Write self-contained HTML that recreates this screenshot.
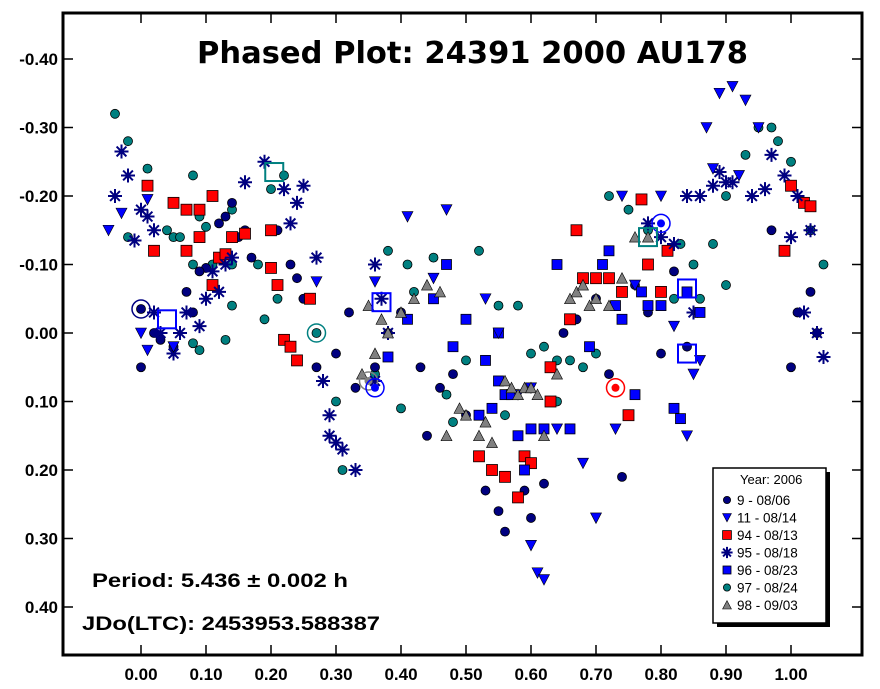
<!DOCTYPE html>
<html><head><meta charset="utf-8"><style>
body{margin:0;background:#fff;}
svg text{font-family:"Liberation Sans",Arial,sans-serif;font-weight:bold;}
</style></head><body>
<svg id="chart" width="880" height="684" xmlns="http://www.w3.org/2000/svg">
<rect x="0" y="0" width="880" height="684" fill="#fff"/>
<g id="axes"></g>
<g id="marks"></g>
<text x="197" y="63" font-size="30" textLength="551" lengthAdjust="spacingAndGlyphs" style="font-family:'DejaVu Sans','Liberation Sans',sans-serif;font-weight:900">Phased Plot: 24391 2000 AU178</text>
<text x="92" y="587" font-size="19" textLength="256" lengthAdjust="spacingAndGlyphs">Period: 5.436 ± 0.002 h</text>
<text x="82" y="630" font-size="19" textLength="298" lengthAdjust="spacingAndGlyphs">JDo(LTC): 2453953.588387</text>
<g id="legend">
<rect x="717" y="472" width="113" height="155" fill="#000"/>
<rect x="713" y="468" width="113" height="155" fill="#fff" stroke="#000" stroke-width="1.5"/>
<text x="740" y="484" font-size="13" style="font-weight:normal">Year: 2006</text>
</g>
</svg>
<script>
const xTicks=[0,0.1,0.2,0.3,0.4,0.5,0.6,0.7,0.8,0.9,1.0];
const xTickLabels=["0.00","0.10","0.20","0.30","0.40","0.50","0.60","0.70","0.80","0.90","1.00"];
const yTicks=[-0.4,-0.3,-0.2,-0.1,0,0.1,0.2,0.3,0.4];
const yTickLabels=["-0.40","-0.30","-0.20","-0.10","0.00","0.10","0.20","0.30","0.40"];
const seriesNames=["9 - 08/06","11 - 08/14","94 - 08/13","95 - 08/18","96 - 08/23","97 - 08/24","98 - 09/03"];
const s9=[[0.0,-0.035],[0.0,0.05],[0.02,0.0],[0.05,0.02],[0.07,-0.06],[0.08,-0.03],[0.10,-0.095],[0.12,-0.16],[0.14,-0.19],[0.15,-0.14],[0.17,-0.11],[0.21,-0.15],[0.23,-0.1],[0.24,-0.08],[0.25,-0.05],[0.27,0.05],[0.30,0.03],[0.32,-0.03],[0.33,0.08],[0.36,0.05],[0.38,0.0],[0.40,-0.03],[0.43,0.05],[0.44,0.15],[0.46,0.08],[0.48,0.06],[0.50,0.12],[0.52,0.18],[0.53,0.23],[0.55,0.26],[0.56,0.29],[0.59,0.23],[0.60,0.27],[0.62,0.22],[0.63,0.1],[0.65,0.0],[0.67,-0.02],[0.70,-0.05],[0.72,0.06],[0.74,0.21],[0.76,-0.07],[0.78,-0.03],[0.80,0.03],[0.82,-0.09],[0.84,0.02],[0.97,-0.15],[1.0,0.05],[1.01,-0.03],[1.03,-0.06],[1.04,0.0],[0.03,0.01],[0.13,-0.17],[0.16,-0.15],[0.09,-0.09]];
const s11=[[-0.05,-0.15],[-0.03,-0.175],[0.01,-0.195],[0.0,0.0],[0.01,0.025],[0.05,0.02],[0.27,-0.075],[0.36,-0.075],[0.41,-0.17],[0.47,-0.18],[0.45,-0.08],[0.53,-0.05],[0.55,0.0],[0.60,0.08],[0.60,0.31],[0.61,0.35],[0.62,0.36],[0.68,0.19],[0.70,0.27],[0.73,0.14],[0.74,-0.2],[0.76,-0.07],[0.80,-0.2],[0.82,-0.01],[0.85,0.06],[0.87,-0.3],[0.89,-0.35],[0.91,-0.36],[0.93,-0.34],[0.95,-0.3],[0.92,-0.23],[0.88,-0.24],[0.84,0.15],[0.86,0.04],[0.64,0.14],[0.58,0.09]];
const s94=[[0.01,-0.215],[0.05,-0.19],[0.07,-0.18],[0.11,-0.2],[0.09,-0.18],[0.02,-0.12],[0.09,-0.14],[0.14,-0.14],[0.16,-0.145],[0.20,-0.15],[0.12,-0.11],[0.13,-0.115],[0.20,-0.095],[0.21,-0.07],[0.22,0.01],[0.23,0.02],[0.24,0.04],[0.26,-0.05],[0.07,-0.12],[0.11,-0.07],[0.52,0.18],[0.54,0.2],[0.56,0.21],[0.58,0.24],[0.59,0.18],[0.60,0.19],[0.63,0.1],[0.67,-0.15],[0.68,-0.08],[0.70,-0.08],[0.72,-0.08],[0.74,-0.06],[0.75,0.12],[0.78,-0.1],[0.80,-0.06],[0.81,-0.12],[0.77,-0.195],[1.0,-0.215],[1.02,-0.19],[1.03,-0.185],[0.99,-0.12],[0.66,-0.02],[0.63,0.05]];
const s95=[[-0.04,-0.2],[-0.03,-0.265],[-0.02,-0.23],[-0.01,-0.135],[0.02,-0.15],[0.01,-0.17],[0.0,-0.18],[0.02,-0.03],[0.03,0.0],[0.05,0.03],[0.06,0.0],[0.07,-0.03],[0.10,-0.05],[0.09,-0.01],[0.11,-0.09],[0.12,-0.06],[0.13,-0.1],[0.14,-0.11],[0.16,-0.22],[0.19,-0.25],[0.22,-0.21],[0.24,-0.19],[0.23,-0.16],[0.25,-0.215],[0.27,-0.11],[0.28,0.07],[0.29,0.12],[0.29,0.15],[0.30,0.16],[0.31,0.17],[0.33,0.2],[0.36,-0.1],[0.36,0.07],[0.37,-0.05],[0.38,0.0],[0.80,-0.14],[0.82,-0.13],[0.84,-0.2],[0.86,-0.2],[0.88,-0.215],[0.89,-0.235],[0.91,-0.22],[0.94,-0.2],[0.96,-0.21],[0.97,-0.26],[0.99,-0.23],[1.0,-0.14],[1.01,-0.2],[1.03,-0.15],[1.02,-0.03],[1.04,0.0],[1.05,0.035],[0.85,-0.03],[0.90,-0.22],[0.78,-0.16]];
const s96=[[0.38,0.035],[0.41,-0.02],[0.45,-0.05],[0.47,-0.1],[0.48,0.02],[0.50,-0.02],[0.52,0.12],[0.53,0.04],[0.55,0.0],[0.55,0.07],[0.56,0.09],[0.57,0.09],[0.58,0.15],[0.60,0.14],[0.62,0.14],[0.64,-0.1],[0.66,0.14],[0.69,0.02],[0.71,-0.1],[0.72,-0.12],[0.73,-0.04],[0.74,-0.02],[0.76,0.09],[0.77,-0.06],[0.78,-0.04],[0.80,-0.04],[0.82,0.11],[0.83,0.125],[0.84,-0.06],[0.86,-0.03],[0.59,0.2],[0.54,0.11]];
const s97=[[-0.04,-0.32],[-0.02,-0.28],[0.01,-0.24],[0.08,-0.23],[-0.02,-0.14],[0.05,-0.14],[0.04,-0.15],[0.06,-0.14],[0.09,-0.17],[0.10,-0.155],[0.14,-0.18],[0.22,-0.23],[0.08,-0.1],[0.11,-0.1],[0.14,-0.1],[0.18,-0.1],[0.21,-0.05],[0.19,-0.02],[0.13,0.01],[0.14,-0.04],[0.20,-0.21],[0.25,-0.05],[0.08,0.015],[0.09,0.025],[0.27,0.0],[0.30,0.1],[0.31,0.2],[0.36,0.06],[0.38,-0.12],[0.41,-0.1],[0.42,-0.06],[0.45,-0.11],[0.40,0.11],[0.47,0.09],[0.50,0.04],[0.52,-0.12],[0.55,-0.04],[0.58,-0.04],[0.60,0.03],[0.62,0.02],[0.64,0.04],[0.66,0.04],[0.70,0.03],[0.72,-0.2],[0.75,-0.18],[0.78,-0.15],[0.82,-0.05],[0.85,-0.1],[0.88,-0.13],[0.90,-0.2],[0.93,-0.26],[0.95,-0.3],[0.97,-0.3],[0.98,-0.28],[1.0,-0.25],[1.03,-0.15],[1.05,-0.1],[0.90,-0.07],[0.56,0.12],[0.48,0.13],[0.64,0.1],[0.68,0.05],[0.86,-0.05],[0.83,-0.13]];
const s98=[[0.35,-0.04],[0.36,0.03],[0.37,-0.02],[0.38,0.0],[0.40,-0.03],[0.42,-0.05],[0.44,-0.07],[0.46,-0.06],[0.49,0.11],[0.50,0.12],[0.52,0.15],[0.53,0.13],[0.54,0.16],[0.56,0.07],[0.57,0.08],[0.58,0.09],[0.59,0.08],[0.60,0.08],[0.61,0.09],[0.62,0.15],[0.64,0.06],[0.66,-0.05],[0.67,-0.06],[0.68,-0.07],[0.69,-0.04],[0.70,-0.05],[0.72,-0.04],[0.74,-0.08],[0.76,-0.14],[0.78,-0.14],[0.47,0.15],[0.34,0.06]];
const ringPoints=[[0.0,-0.035],[0.27,0.0],[0.35,0.07],[0.36,0.08],[0.73,0.08],[0.80,-0.16]];
const ringColors=["#000080","#008080","#808080","#0000ff","#ff0000","#0000ff"];
const boxPoints=[[0.04,-0.02],[0.205,-0.235],[0.37,-0.045],[0.84,-0.065],[0.84,0.03],[0.78,-0.14]];
const boxColors=["#0000ff","#008080","#0000ff","#0000ff","#0000ff","#008080"];

const NS="http://www.w3.org/2000/svg";
const X0=63,X1=862,Y0=13,Y1=655;
function xs(v){return 141+v*650;}
function ys(v){return 333+v*685;}
function mk(tag,attrs,parent){const e=document.createElementNS(NS,tag);for(const k in attrs)e.setAttribute(k,attrs[k]);parent.appendChild(e);return e;}
const axes=document.getElementById('axes');
const frame=mk('rect',{x:X0,y:Y0,width:X1-X0,height:Y1-Y0,fill:'none',stroke:'#000','stroke-width':3},axes);


xTicks.forEach((t,i)=>{
  const x=xs(t);
  const a=mk('line',{x1:x,x2:x,y1:Y1,y2:Y1-10,stroke:'#000','stroke-width':1.5},axes);
  
  
  const b=mk('line',{x1:x,x2:x,y1:Y0,y2:Y0+10,stroke:'#000','stroke-width':1.5},axes);
  
  
  const tx=mk('text',{x:x,y:680,'font-size':17,'text-anchor':'middle'},axes);
  tx.textContent=xTickLabels[i];
  
  
});
yTicks.forEach((t,i)=>{
  const y=ys(t);
  const a=mk('line',{x1:X0,x2:X0+10,y1:y,y2:y,stroke:'#000','stroke-width':1.5},axes);
  
  
  const b=mk('line',{x1:X1,x2:X1-10,y1:y,y2:y,stroke:'#000','stroke-width':1.5},axes);
  
  
  const tx=mk('text',{x:58,y:y+6,'font-size':17,'text-anchor':'end'},axes);
  tx.textContent=yTickLabels[i];
  
  
});
function marker(type,x,y,parent,s){
  s=s||1;
  if(type==='circle')return mk('circle',{cx:x,cy:y,r:4.5*s,fill:'#000080',stroke:'#000','stroke-width':0.8},parent);
  if(type==='tcircle')return mk('circle',{cx:x,cy:y,r:4.5*s,fill:'#008080',stroke:'#000','stroke-width':0.8},parent);
  if(type==='tri')return mk('polygon',{points:`${x-5.5*s},${y-5*s} ${x+5.5*s},${y-5*s} ${x},${y+5.5*s}`,fill:'#0000ff',stroke:'#000','stroke-width':0.6},parent);
  if(type==='gtri')return mk('polygon',{points:`${x-5.5*s},${y+5*s} ${x+5.5*s},${y+5*s} ${x},${y-5.5*s}`,fill:'#808080',stroke:'#000','stroke-width':0.6},parent);
  if(type==='rsq')return mk('rect',{x:x-5.5*s,y:y-5.5*s,width:11*s,height:11*s,fill:'#ff0000',stroke:'#000','stroke-width':0.8},parent);
  if(type==='bsq')return mk('rect',{x:x-5*s,y:y-5*s,width:10*s,height:10*s,fill:'#0000ff',stroke:'#000','stroke-width':0.8},parent);
  if(type==='star'){const r=7*s;return mk('path',{d:`M${x-r},${y}H${x+r}M${x},${y-r}V${y+r}M${x-r*0.7},${y-r*0.7}L${x+r*0.7},${y+r*0.7}M${x-r*0.7},${y+r*0.7}L${x+r*0.7},${y-r*0.7}`,stroke:'#000080','stroke-width':2,fill:'none'},parent);}
}
const marks=document.getElementById('marks');
const seriesDefs=[[s97,'tcircle','series-97'],[s9,'circle','series-9'],[s94,'rsq','series-94'],[s95,'star','series-95'],[s96,'bsq','series-96'],[s11,'tri','series-11'],[s98,'gtri','series-98']];
seriesDefs.forEach(([arr,type,name])=>{
  const g=mk('g',{},marks);
  
  
  arr.forEach(p=>{
    const m=marker(type,xs(p[0]),ys(p[1]),g);
    
    
  });
});
ringPoints.forEach((p,i)=>{
  const c=mk('circle',{cx:xs(p[0]),cy:ys(p[1]),r:9,fill:'none',stroke:ringColors[i],'stroke-width':1.5},marks);
  
  
  const d=mk('circle',{cx:xs(p[0]),cy:ys(p[1]),r:4,fill:ringColors[i]},marks);
  
  
});
boxPoints.forEach((p,i)=>{
  const r=mk('rect',{x:xs(p[0])-9,y:ys(p[1])-9,width:18,height:18,fill:'none',stroke:boxColors[i],'stroke-width':2},marks);
  
  
});
const leg=document.getElementById('legend');
const legTypes=['circle','tri','rsq','star','bsq','tcircle','gtri'];
seriesNames.forEach((n,i)=>{
  const y=500+i*17.5;
  const m=marker(legTypes[i],727,y,leg,0.8);
  
  
  const t=mk('text',{x:737,y:y+5,'font-size':13.5,style:'font-weight:normal'},leg);
  t.textContent=n;
  
  
});
</script>
</body></html>
